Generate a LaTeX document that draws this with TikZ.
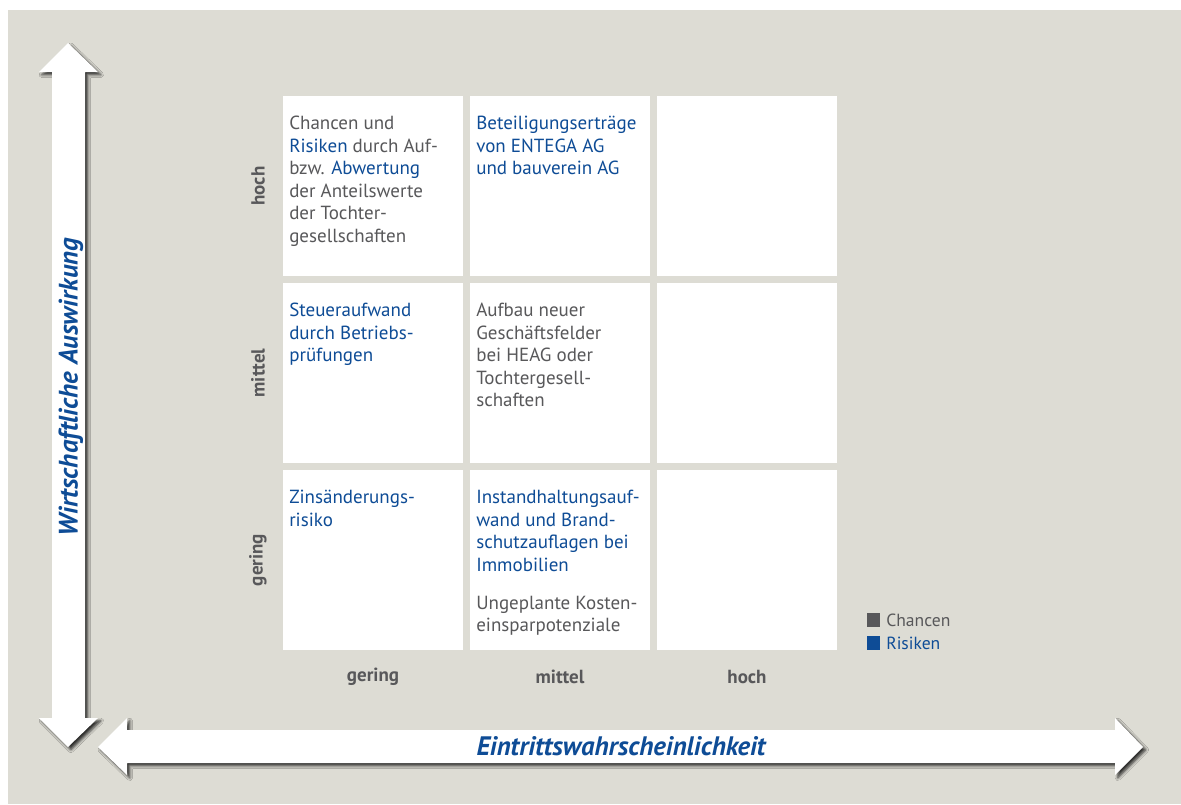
\documentclass[tikz,border=0pt]{standalone}
\usepackage{fontspec}
\setmainfont{PT Sans}
\usetikzlibrary{calc,shadows.blur}
\definecolor{bgGrey}{HTML}{DDDCD4}
\definecolor{chance}{HTML}{58585A}
\definecolor{risk}{HTML}{0E4C96}
\tikzset{
  cell/.style={fill=white,minimum size=4.5cm,inner sep=0pt,anchor=north west},
  celltext/.style={anchor=north west,inner sep=0pt,align=left,text=chance,
    font=\fontsize{13.5}{16}\selectfont},
  rowlabel/.style={rotate=90,text=chance,font=\fontsize{13.5}{15}\selectfont\bfseries},
  collabel/.style={text=chance,font=\fontsize{13.5}{15}\selectfont\bfseries},
  axislabel/.style={text=risk,font=\fontsize{19}{21}\selectfont\bfseries\itshape},
  legendtext/.style={anchor=west,inner sep=0pt,font=\fontsize{12.5}{14}\selectfont},
  bigarrow/.style={fill=white,blur shadow={shadow xshift=2pt,shadow yshift=-2pt,
    shadow blur radius=2pt,shadow opacity=80}},
}
\begin{document}
\begin{tikzpicture}[x=0.025cm,y=-0.025cm]
  \useasboundingbox (0,0) rectangle (1181,804);
  \fill[bgGrey] (8,10) rectangle (1181,804);

  % axes
  \path[bigarrow] (68,43) -- (98,72) -- (85,72) -- (85,718) -- (98,718) -- (68,747)
    -- (39,718) -- (52,718) -- (52,72) -- (39,72) -- cycle;
  \path[bigarrow] (98,747) -- (127,718) -- (127,730) -- (1115,730) -- (1115,718) -- (1143,747)
    -- (1115,775) -- (1115,763) -- (127,763) -- (127,775) -- cycle;
  \node[axislabel,rotate=90] (impact) at (71,387) {Wirtschaftliche Auswirkung};
  \node[axislabel] (prob) at (621,746) {Eintrittswahrscheinlichkeit};

  % matrix cells
  \node[cell] (c11) at (283,96) {};
  \node[cell] (c12) at (470,96) {};
  \node[cell] (c13) at (657,96) {};
  \node[cell] (c21) at (283,283) {};
  \node[cell] (c22) at (470,283) {};
  \node[cell] (c23) at (657,283) {};
  \node[cell] (c31) at (283,470) {};
  \node[cell] (c32) at (470,470) {};
  \node[cell] (c33) at (657,470) {};

  % cell texts
  \node[celltext] (t11) at ($(c11.north west)+(6,20)$) {Chancen und\\
    \textcolor{risk}{Risiken} durch Auf-\\bzw. \textcolor{risk}{Abwertung}\\
    der Anteilswerte\\der Tochter-\\gesellschaften};
  \node[celltext,text=risk] (t12) at ($(c12.north west)+(6,20)$)
    {Beteiligungserträge\\von ENTEGA AG\\und bauverein AG};
  \node[celltext,text=risk] (t21) at ($(c21.north west)+(6,20)$)
    {Steueraufwand\\durch Betriebs-\\prüfungen};
  \node[celltext] (t22) at ($(c22.north west)+(6,20)$)
    {Aufbau neuer\\Geschäftsfelder\\bei HEAG oder\\Tochtergesell-\\schaften};
  \node[celltext,text=risk] (t31) at ($(c31.north west)+(6,20)$)
    {Zinsänderungs-\\risiko};
  \node[celltext] (t32) at ($(c32.north west)+(6,20)$)
    {\textcolor{risk}{Instandhaltungsauf-}\\\textcolor{risk}{wand und Brand-}\\
    \textcolor{risk}{schutzauflagen bei}\\\textcolor{risk}{Immobilien}\\[11pt]
    Ungeplante Kosten-\\einsparpotenziale};

  % labels
  \node[rowlabel] (hi) at (258,186) {hoch};
  \node[rowlabel] (mid) at (258,373) {mittel};
  \node[rowlabel] (lo) at (258,560) {gering};
  \node[collabel] (xlo) at (373,677) {gering};
  \node[collabel] (xmid) at (560,677) {mittel};
  \node[collabel] (xhi) at (747,677) {hoch};

  % legend
  \fill[chance] (867,613) rectangle (880,627);
  \fill[risk] (867,636) rectangle (880,650);
  \node[legendtext,text=chance] (lchance) at (886,620) {Chancen};
  \node[legendtext,text=risk] (lrisk) at (886,643) {Risiken};
\end{tikzpicture}
\end{document}
